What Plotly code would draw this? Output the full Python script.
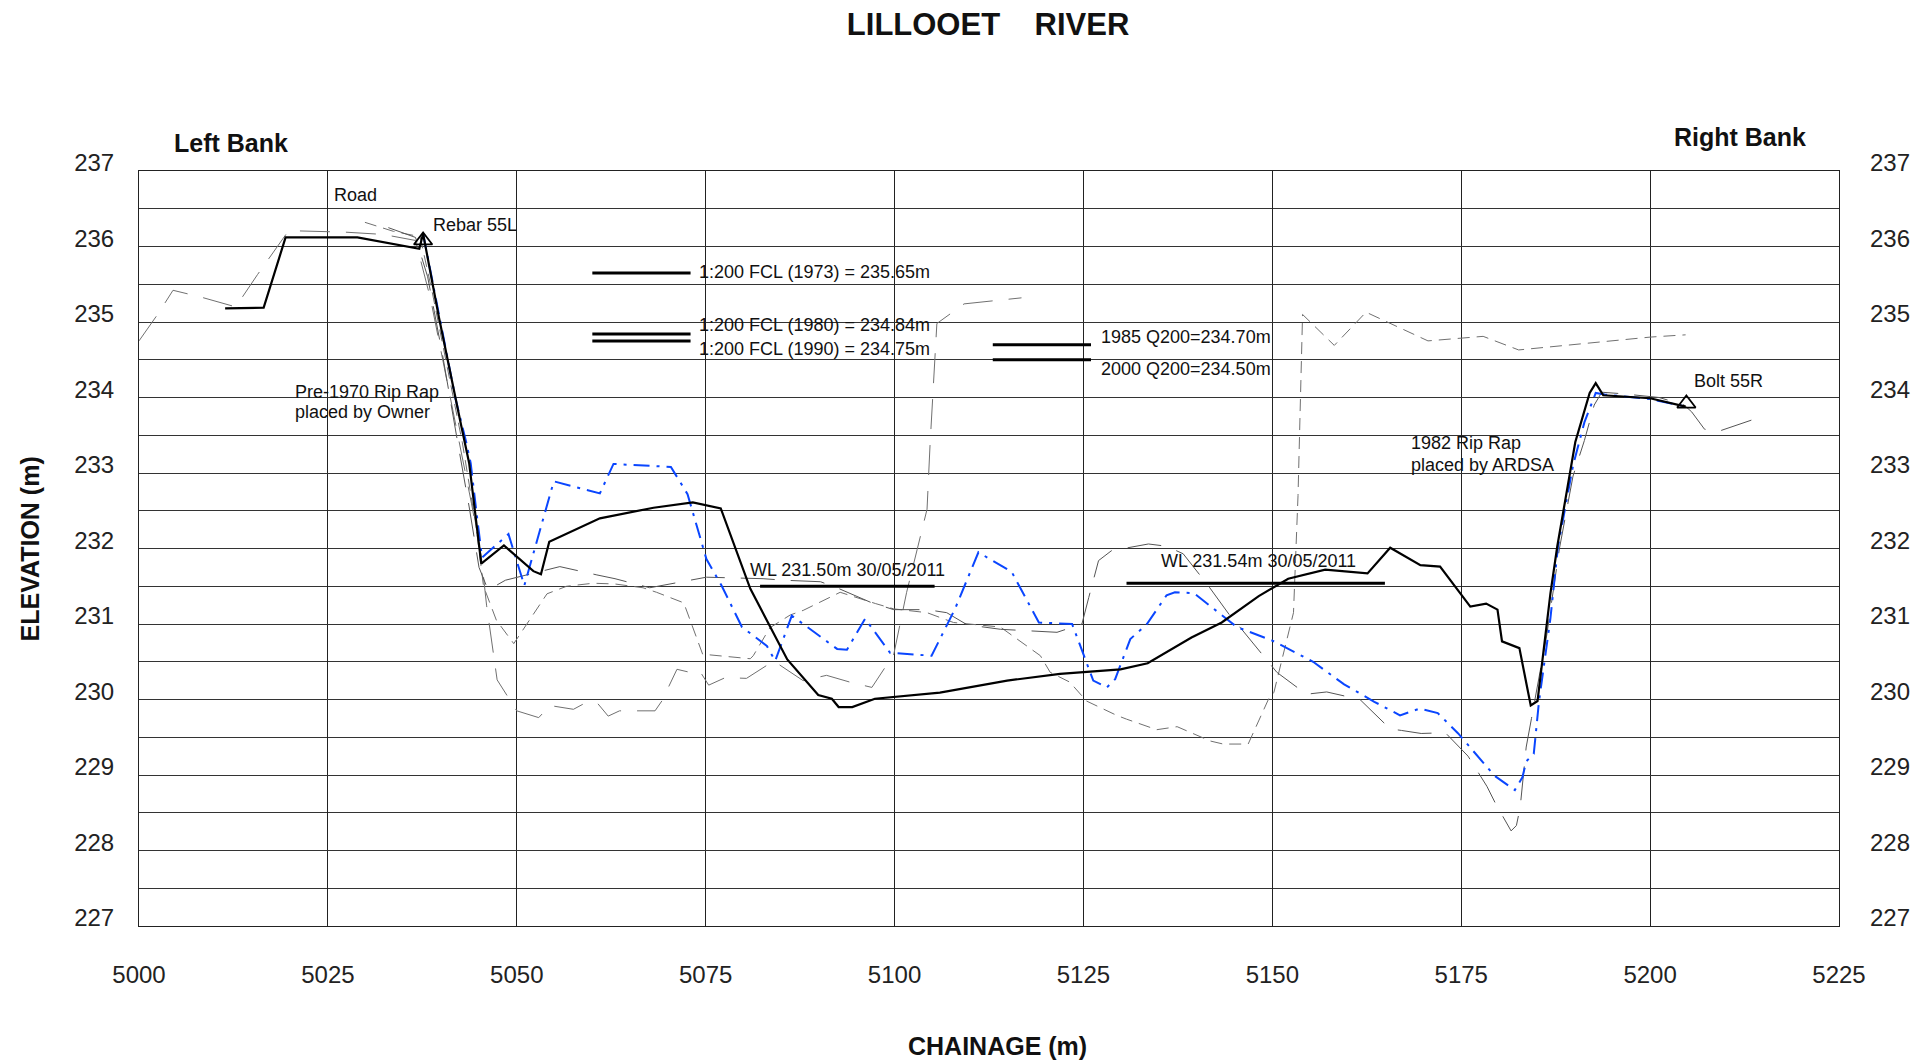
import plotly.graph_objects as go

# ---- Cross-section surveys (chainage m, elevation m) ----
survey_2011_ch = [5011.4, 5016.5, 5019.4, 5028.9, 5037.1, 5037.6, 5039.7, 5041.7, 5042.6, 5043.7,
                  5045.3, 5048.3, 5052.2, 5053.2, 5054.3, 5061.0, 5068.1, 5073.3, 5077.0, 5080.9,
                  5085.8, 5089.9, 5091.7, 5092.6, 5094.4, 5097.4, 5106.0, 5114.9, 5121.9, 5129.9,
                  5133.5, 5139.3, 5143.3, 5148.2, 5152.1, 5157.0, 5162.6, 5165.6, 5169.6, 5172.2,
                  5176.2, 5178.3, 5179.8, 5180.4, 5182.7, 5184.2, 5185.1, 5186.8, 5187.7, 5190.1,
                  5192.0, 5192.8, 5193.8, 5200.0, 5204.7]
survey_2011_el = [235.18, 235.19, 236.12, 236.12, 235.97, 236.17, 235.06, 234.12, 233.65, 233.13,
                  231.80, 232.04, 231.70, 231.66, 232.09, 232.40, 232.54, 232.61, 232.53, 231.47,
                  230.53, 230.06, 230.01, 229.90, 229.90, 230.01, 230.09, 230.25, 230.34, 230.40,
                  230.48, 230.82, 231.02, 231.37, 231.60, 231.72, 231.67, 232.01, 231.78, 231.76,
                  231.23, 231.27, 231.19, 230.77, 230.68, 229.92, 229.98, 231.40, 232.02, 233.41,
                  234.06, 234.19, 234.03, 233.99, 233.88]

survey_blue_ch = [5037.6, 5039.1, 5040.6, 5041.9, 5043.3, 5043.9, 5044.7, 5045.4, 5048.9, 5051.0,
                  5054.9, 5061.0, 5062.8, 5070.4, 5072.6, 5075.1, 5077.1, 5079.8, 5083.1, 5084.2,
                  5086.4, 5092.4, 5093.7, 5096.1, 5099.4, 5104.9, 5108.0, 5111.1, 5115.5, 5119.1,
                  5123.5, 5126.3, 5128.1, 5129.2, 5131.2, 5133.4, 5136.0, 5137.1, 5139.6, 5143.3,
                  5145.3, 5150.0, 5155.4, 5159.5, 5163.5, 5166.9, 5169.5, 5171.9, 5174.6, 5179.4,
                  5182.1, 5183.1, 5183.6, 5184.6, 5185.3, 5186.8, 5187.8, 5189.8, 5191.3, 5192.8,
                  5194.0, 5200.0, 5204.7]
survey_blue_el = [236.17, 235.39, 234.64, 233.98, 233.41, 233.13, 232.45, 231.88, 232.19, 231.51,
                  232.89, 232.73, 233.12, 233.08, 232.72, 231.86, 231.51, 230.96, 230.71, 230.51,
                  231.11, 230.67, 230.66, 231.07, 230.62, 230.58, 231.20, 231.95, 231.69, 231.02,
                  231.00, 230.25, 230.16, 230.27, 230.80, 231.00, 231.38, 231.42, 231.41, 231.11,
                  230.96, 230.78, 230.50, 230.20, 229.97, 229.79, 229.88, 229.82, 229.55, 228.99,
                  228.80, 228.97, 229.18, 229.28, 229.98, 231.07, 232.02, 233.10, 233.67, 234.06,
                  234.04, 233.98, 233.88]

survey_a_ch = [5000.0, 5002.6, 5004.5, 5008.2, 5012.8, 5015.7, 5019.8, 5024.8, 5027.3, 5032.3,
               5036.6, 5038.6, 5040.6, 5042.4, 5044.0, 5045.3, 5046.0, 5047.4, 5049.1, 5050.0,
               5052.9, 5054.4, 5057.5, 5058.8, 5060.6, 5062.1, 5063.6, 5068.3, 5069.2, 5071.2,
               5072.9, 5074.2, 5075.4, 5077.6, 5080.4, 5084.0, 5087.9, 5091.0, 5094.1, 5097.0,
               5099.9, 5101.6, 5103.0, 5104.3, 5104.7, 5105.2, 5105.6, 5109.2, 5116.8]
survey_a_el = [234.75, 235.12, 235.42, 235.33, 235.20, 235.63, 236.21, 236.19, 236.19, 236.16,
               236.08, 235.30, 234.30, 233.40, 232.60, 231.90, 231.25, 230.26, 229.98, 229.85,
               229.76, 229.92, 229.87, 229.94, 229.96, 229.78, 229.85, 229.85, 229.98, 230.40,
               230.36, 230.38, 230.19, 230.29, 230.28, 230.51, 230.25, 230.32, 230.23, 230.16,
               230.60, 231.42, 231.99, 232.52, 233.38, 234.24, 234.98, 235.24, 235.32]

survey_b_ch = [5029.9, 5033.7, 5037.2, 5038.8, 5040.8, 5042.8, 5044.6, 5045.6, 5047.3, 5049.6,
               5054.0, 5056.6, 5060.1, 5063.0, 5066.7, 5068.5, 5072.1, 5074.6, 5080.9, 5081.3,
               5083.5, 5086.2, 5087.9, 5092.8, 5097.5, 5099.9, 5104.3, 5107.8, 5114.0, 5119.3,
               5120.6, 5123.2, 5125.4, 5129.4, 5130.7, 5134.7, 5137.4, 5138.3, 5141.8, 5143.5,
               5146.8, 5147.3, 5149.7, 5150.2, 5152.8, 5153.4, 5154.0, 5158.2, 5162.4, 5170.6,
               5177.9, 5182.6, 5200.0, 5204.7]
survey_b_el = [236.32, 236.20, 236.13, 235.40, 234.40, 233.40, 232.30, 231.50, 231.05, 230.74,
               231.40, 231.50, 231.54, 231.53, 231.48, 231.42, 231.28, 230.60, 230.54, 230.58,
               230.95, 231.12, 231.18, 231.42, 231.27, 231.20, 231.15, 231.02, 230.96, 230.58,
               230.36, 230.23, 229.98, 229.79, 229.74, 229.60, 229.64, 229.60, 229.45, 229.41,
               229.41, 229.52, 230.05, 230.09, 231.15, 232.70, 235.10, 234.69, 235.13, 234.75,
               234.81, 234.63, 234.80, 234.83]

survey_c_ch = [5033.0, 5036.6, 5038.2, 5040.2, 5042.1, 5043.7, 5045.0, 5046.2, 5048.5, 5051.8,
               5055.7, 5060.6, 5063.0, 5067.6, 5070.3, 5075.1, 5082.6, 5085.3, 5090.2, 5092.6,
               5097.0, 5099.9, 5104.3, 5106.9, 5109.6, 5114.0, 5121.5, 5124.8, 5125.7, 5127.0,
               5128.7, 5133.6, 5136.0, 5138.2, 5141.5, 5144.4, 5145.7, 5149.0, 5150.6, 5154.5,
               5157.2, 5161.6, 5163.6, 5165.6, 5167.1, 5169.7, 5172.9, 5175.9, 5178.4, 5179.6,
               5181.6, 5182.3, 5182.8, 5183.6, 5184.3, 5186.3, 5188.0, 5189.8, 5191.3, 5192.6,
               5193.6, 5196.3, 5201.2, 5204.5, 5205.5, 5207.2, 5209.0, 5213.4]
survey_c_el = [236.25, 236.12, 235.60, 234.55, 233.45, 232.55, 231.75, 231.45, 231.58, 231.66,
               231.76, 231.65, 231.60, 231.48, 231.53, 231.62, 231.60, 231.58, 231.56, 231.47,
               231.28, 231.19, 231.19, 231.15, 230.99, 230.93, 230.89, 231.00, 231.35, 231.84,
               231.97, 232.06, 232.03, 231.93, 231.51, 231.11, 230.96, 230.56, 230.36, 230.07,
               230.10, 230.00, 229.81, 229.61, 229.59, 229.55, 229.56, 229.25, 228.85, 228.61,
               228.26, 228.33, 228.57, 229.37, 229.75, 230.84, 232.00, 232.96, 233.43, 233.90,
               234.07, 234.05, 234.00, 233.90, 233.81, 233.58, 233.55, 233.70]

# Survey monuments
monument_names = ["Rebar 55L", "Bolt 55R"]
monument_ch = [5037.6, 5204.8]
monument_el = [236.08, 233.92]

# Design flood levels
flood_labels = ["1:200 FCL (1973) = 235.65m", "1:200 FCL (1980) = 234.84m",
                "1:200 FCL (1990) = 234.75m", "1985 Q200=234.70m", "2000 Q200=234.50m"]
flood_levels = [235.65, 234.84, 234.75, 234.70, 234.50]
flood_start = [5060.0, 5060.0, 5060.0, 5113.0, 5113.0]
flood_end = [5073.0, 5073.0, 5073.0, 5126.0, 5126.0]

# Measured water levels
wl_labels = ["WL 231.50m 30/05/2011", "WL 231.54m 30/05/2011"]
wl_levels = [231.50, 231.54]
wl_start = [5082.2, 5130.7]
wl_end = [5105.3, 5164.9]

# Axis ticks
x_ticks = [5000, 5025, 5050, 5075, 5100, 5125, 5150, 5175, 5200, 5225]
y_ticks = [227, 228, 229, 230, 231, 232, 233, 234, 235, 236, 237]

FONT = "Liberation Sans, Arial, Helvetica, sans-serif"

fig = go.Figure()

# Older surveys (grey, dashed)
fig.add_trace(go.Scatter(x=survey_a_ch, y=survey_a_el, mode="lines",
                         line=dict(color="#707070", width=1, dash="30px,16px")))
fig.add_trace(go.Scatter(x=survey_b_ch, y=survey_b_el, mode="lines",
                         line=dict(color="#707070", width=1, dash="12px,7px")))
fig.add_trace(go.Scatter(x=survey_c_ch, y=survey_c_el, mode="lines",
                         line=dict(color="#555555", width=1, dash="34px,16px")))

# Blue dash-dot survey
fig.add_trace(go.Scatter(x=survey_blue_ch, y=survey_blue_el, mode="lines",
                         line=dict(color="#0a46ff", width=2, dash="16px,7px,3px,7px")))

# Current survey
fig.add_trace(go.Scatter(x=survey_2011_ch, y=survey_2011_el, mode="lines",
                         line=dict(color="black", width=2.2)))

# Monuments
fig.add_trace(go.Scatter(x=monument_ch, y=monument_el, mode="markers",
                         marker=dict(symbol="triangle-up-open", size=16,
                                     color="black", line=dict(width=1.8, color="black"))))

# Flood level bars
for lvl, x0, x1 in zip(flood_levels, flood_start, flood_end):
    fig.add_trace(go.Scatter(x=[x0, x1], y=[lvl, lvl], mode="lines",
                             line=dict(color="black", width=3)))

# Water level bars
for lvl, x0, x1 in zip(wl_levels, wl_start, wl_end):
    fig.add_trace(go.Scatter(x=[x0, x1], y=[lvl, lvl], mode="lines",
                             line=dict(color="black", width=3)))

# Empty trace to carry the right-hand elevation axis
fig.add_trace(go.Scatter(x=[], y=[], yaxis="y2", mode="lines"))

txt = dict(family=FONT, size=18, color="#111111")
ann = []

# Flood level labels
ann.append(dict(x=5073.8, y=235.66, text=flood_labels[0]))
ann.append(dict(x=5073.8, y=234.96, text=flood_labels[1]))
ann.append(dict(x=5073.8, y=234.64, text=flood_labels[2]))
ann.append(dict(x=5127.0, y=234.80, text=flood_labels[3]))
ann.append(dict(x=5127.0, y=234.38, text=flood_labels[4]))
for a in ann:
    a.update(xanchor="left", yanchor="middle")

# Water level labels
ann.append(dict(x=(wl_start[0] + wl_end[0]) / 2, y=231.71, text=wl_labels[0],
                xanchor="center", yanchor="middle"))
ann.append(dict(x=(wl_start[1] + wl_end[1]) / 2 + 0.4, y=231.84, text=wl_labels[1],
                xanchor="center", yanchor="middle"))

# Site notes
notes = [
    (5025.6, 236.68, "Road"),
    (5038.6, 236.28, monument_names[0]),
    (5020.4, 234.07, "Pre-1970 Rip Rap"),
    (5020.4, 233.81, "placed by Owner"),
    (5168.1, 233.40, "1982 Rip Rap"),
    (5168.1, 233.11, "placed by ARDSA"),
    (5205.5, 234.22, monument_names[1]),
]
for x, y, t in notes:
    ann.append(dict(x=x, y=y, text=t, xanchor="left", yanchor="middle"))

for a in ann:
    a.update(xref="x", yref="y", showarrow=False, font=txt)

bold = dict(family=FONT, size=25, color="#111111")
ann += [
    dict(x=0.054, y=1.037, xref="paper", yref="paper", text="<b>Left Bank</b>",
         showarrow=False, font=bold, xanchor="center", yanchor="middle"),
    dict(x=0.942, y=1.045, xref="paper", yref="paper", text="<b>Right Bank</b>",
         showarrow=False, font=bold, xanchor="center", yanchor="middle"),
    dict(x=0.505, y=-0.159, xref="paper", yref="paper", text="<b>CHAINAGE (m)</b>",
         showarrow=False, font=bold, xanchor="center", yanchor="middle"),
    dict(x=-0.064, y=0.499, xref="paper", yref="paper", text="<b>ELEVATION (m)</b>",
         showarrow=False, font=bold, xanchor="center", yanchor="middle", textangle=-90),
]

tickfont = dict(family=FONT, size=24, color="#222222")

fig.update_layout(
    width=1913, height=1063,
    margin=dict(l=139, r=74, t=171, b=137, autoexpand=False),
    paper_bgcolor="white", plot_bgcolor="white",
    showlegend=False,
    title=dict(text="<b>LILLOOET\u00a0\u00a0\u00a0\u00a0RIVER</b>", x=0.5165, xanchor="center",
               y=1 - 24 / 1063, yanchor="middle", yref="container",
               font=dict(family=FONT, size=31, color="#111111")),
    annotations=ann,
    xaxis=dict(range=[x_ticks[0], x_ticks[-1]], tickvals=x_ticks, ticktext=[str(v) for v in x_ticks],
               showgrid=True, gridcolor="#222222", gridwidth=1, automargin=False,
               showline=True, linecolor="#222222", linewidth=1, mirror=True,
               ticks="", tickfont=tickfont, ticklabelstandoff=27, zeroline=False),
    yaxis=dict(range=[y_ticks[0], y_ticks[-1]], tickvals=y_ticks, ticktext=[str(v) for v in y_ticks],
               showgrid=True, gridcolor="#333333", gridwidth=1, automargin=False,
               minor=dict(dtick=0.5, tick0=227, showgrid=True, gridcolor="#333333", gridwidth=1),
               showline=True, linecolor="#222222", linewidth=1, mirror=True,
               ticks="", tickfont=tickfont, ticklabelstandoff=19, ticklabelshift=-8, zeroline=False),
    yaxis2=dict(range=[y_ticks[0], y_ticks[-1]], tickvals=y_ticks, ticktext=[str(v) for v in y_ticks],
                overlaying="y", side="right", showgrid=False, zeroline=False, automargin=False,
                ticks="", tickfont=tickfont, ticklabelstandoff=30, ticklabelshift=-8),
)

fig.write_html("out.html")
